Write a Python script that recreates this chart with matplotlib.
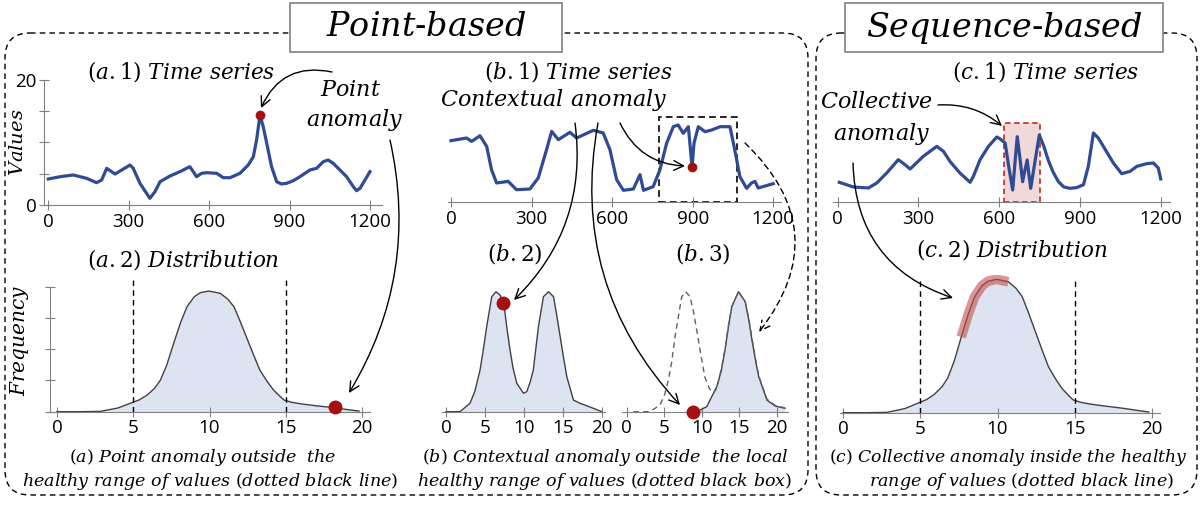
import matplotlib
matplotlib.use("Agg")
import matplotlib.pyplot as plt
import numpy as np
from matplotlib.patches import FancyBboxPatch, Rectangle

plt.rcParams['mathtext.fontset'] = 'dejavuserif'
plt.rcParams['font.family'] = ['Open Sans', 'DejaVu Sans']

# (a.1) time series with a point anomaly
a1_t = [0, 44, 93, 143, 180, 199, 218, 236, 249, 274, 305, 317, 342, 379, 398, 417, 454, 491,
        528, 541, 553, 572, 591, 628, 653, 678, 715, 746, 765, 777, 790, 802, 815, 833, 852,
        870, 889, 914, 939, 976, 1001, 1026, 1044, 1063, 1088, 1113, 1138, 1150, 1163, 1200]
a1_v = [4.16, 4.53, 4.8, 4.27, 3.57, 4.0, 5.87, 5.33, 4.96, 5.6, 6.4, 5.87, 3.47, 1.07, 2.13,
        3.73, 4.64, 5.33, 6.13, 5.33, 4.53, 5.07, 5.17, 5.07, 4.37, 4.37, 5.07, 6.4, 7.73, 10.4,
        14.4, 12.5, 9.87, 6.13, 3.73, 3.36, 3.47, 3.89, 4.53, 5.6, 5.87, 6.93, 7.2, 6.67, 5.6,
        4.53, 2.93, 2.29, 2.67, 5.33]
a1_anom = (790, 14.4)

# (b.1) time series with a contextual anomaly
b1_t = [0, 58, 77, 108, 133, 151, 170, 213, 244, 294, 325, 356, 375, 400, 443, 468, 530, 567,
        592, 617, 642, 679, 704, 717, 753, 778, 803, 828, 846, 865, 884, 892, 898, 905, 921,
        946, 971, 1002, 1039, 1057, 1076, 1101, 1119, 1132, 1144, 1200]
b1_v = [9.81, 10.24, 9.7, 10.6, 8.9, 5.17, 3.04, 3.3, 1.97, 2.08, 3.84, 8.37, 11.3, 9.97, 11.15,
        10.24, 11.47, 11.04, 8.37, 3.57, 1.87, 2.08, 4.37, 1.87, 2.45, 5.12, 9.39, 12.05, 12.32,
        10.99, 12.05, 8.32, 5.65, 9.39, 12.05, 11.25, 11.52, 12.05, 12.05, 8.32, 4.05, 2.19,
        3.04, 3.3, 2.24, 2.93]
b1_anom = (898, 5.65)
b1_box = (776, 1064, 13.55)   # local window: start, end, top

# (c.1) time series with a collective anomaly
c1_t = [6, 58, 114, 145, 182, 225, 250, 269, 318, 368, 393, 417, 454, 492, 504, 529, 560, 591,
        603, 622, 636, 650, 658, 667, 677, 687, 695, 704, 710, 717, 733, 749, 765, 782, 800,
        820, 840, 863, 888, 913, 931, 950, 968, 987, 1024, 1055, 1086, 1111, 1148, 1173, 1191,
        1200]
c1_v = [3.15, 2.4, 2.24, 3.04, 4.64, 6.77, 5.97, 5.28, 7.31, 8.9, 8.1, 6.5, 4.64, 3.15, 4.1,
        6.77, 8.9, 10.4, 10.1, 9.44, 5.5, 1.92, 6.0, 10.45, 7.0, 3.25, 5.0, 6.72, 4.5, 2.19, 6.5,
        10.72, 9.0, 6.72, 4.8, 3.25, 2.4, 2.19, 2.3, 2.77, 5.7, 11.04, 10.24, 8.9, 6.24, 4.53,
        4.9, 5.7, 6.13, 6.24, 5.44, 3.68]
c1_box = (616, 753, 12.6)

# distribution of the whole series (a.2 and c.2)
dist_x = [0, 1.5, 2.84, 4.0, 4.81, 5.4, 5.9, 6.4, 6.78, 7.2, 7.65, 8.1, 8.52, 9.0, 9.4, 9.95,
          10.7, 11.2, 11.6, 12.0, 12.5, 12.9, 13.3, 13.8, 14.2, 14.6, 14.9, 15.4, 16.0, 17.0,
          18.1, 19.0, 19.8]
dist_y = [0, 0, 0.01, 0.12, 0.27, 0.38, 0.53, 0.75, 1.01, 1.5, 2.19, 2.85, 3.36, 3.68, 3.81,
          3.86, 3.79, 3.6, 3.36, 2.9, 2.29, 1.8, 1.33, 0.95, 0.69, 0.5, 0.37, 0.3, 0.25, 0.19,
          0.13, 0.07, 0.02]
a2_anom = (18.25, 0.14)
healthy = [5, 15]

# (b.2) bimodal distribution of the whole series
b2_x = [0, 1.8, 3.08, 3.7, 4.37, 4.8, 5.22, 5.87, 6.42, 6.94, 7.45, 7.8, 8.22, 8.6, 9.08, 9.94,
        10.36, 10.8, 11.2, 11.86, 12.5, 13.15, 13.8, 14.2, 14.65, 15.1, 15.5, 16.36, 17.2, 18.9, 20]
b2_y = [0, 0, 0.27, 0.65, 1.33, 2.0, 2.72, 3.68, 3.84, 3.73, 3.41, 2.7, 1.97, 1.4, 0.91, 0.59,
        0.64, 0.95, 1.33, 2.72, 3.68, 3.84, 3.68, 3.1, 2.4, 1.7, 1.12, 0.37, 0.27, 0.11, 0]
b2_anom = (7.37, 3.47)

# (b.3) local distribution (filled) and reference (dashed)
b3_x = [9.33, 10.67, 12, 12.6, 13.1, 13.55, 14, 14.9, 15.8, 16.3, 16.7, 17.2, 17.6, 18.7, 19.8, 21.1]
b3_y = [0, 0.16, 0.8, 1.3, 1.97, 2.7, 3.36, 3.84, 3.52, 2.9, 2.29, 1.6, 1.12, 0.37, 0.18, 0.11]
b3_ref_x = [0.9, 3.1, 4.4, 5.0, 5.55, 6.0, 6.44, 7.33, 7.87, 8.44, 8.9, 9.33, 9.9, 10.4, 11.0,
            11.56, 12.0, 12.6, 13.1, 13.55, 14.0, 14.9, 15.8, 16.3, 16.7, 17.2, 17.6, 18.7, 19.8, 21.1]
b3_ref_y = [0, 0, 0.21, 0.5, 1.01, 1.6, 2.4, 3.68, 3.84, 3.68, 3.2, 2.61, 1.8, 1.12, 0.75, 0.59,
            0.75, 1.35, 2.0, 2.75, 3.36, 3.84, 3.52, 2.95, 2.35, 1.65, 1.15, 0.4, 0.2, 0.12]
b3_anom = (8.9, 0.0)

c2_hl = (7.3, 11.1)   # range covered by the collective anomaly

ts_ticks = [0, 300, 600, 900, 1200]
dist_ticks = [0, 5, 10, 15, 20]

BLUE = '#2e4b93'
RED = '#a50f10'
FILL = '#dde3f0'
EDGE = '#404040'
GREY = '#808080'

W, H = 1200, 508
fig = plt.figure(figsize=(12, 5.08), dpi=100)


def place(x0, x1, y_bot, y_top, xlim, ylim):
    ax = fig.add_axes([x0 / W, 1 - y_bot / H, (x1 - x0) / W, (y_bot - y_top) / H])
    ax.set_xlim(*xlim)
    ax.set_ylim(*ylim)
    ax.patch.set_alpha(0)
    for s in ['top', 'right', 'left']:
        ax.spines[s].set_visible(False)
    ax.spines['bottom'].set_color(GREY)
    ax.tick_params(colors=GREY, labelcolor='black', direction='inout', length=7,
                   labelsize=13.5, pad=2)
    ax.set_yticks([])
    return ax


def ts_axis(ax):
    ax.set_xticks(ts_ticks)
    ax.set_xticklabels([str(t) for t in ts_ticks])


def dist_axis(ax):
    ax.set_xticks(dist_ticks)
    ax.set_xticklabels([str(t) for t in dist_ticks])


# ---- time series panels ----
ax_a1 = place(44, 382, 205, 80, (-16, 1245), (0, 20))
ax_a1.plot(a1_t, a1_v, color=BLUE, lw=2.3, solid_joinstyle='round')
ax_a1.plot(*a1_anom, 'o', color=RED, ms=6, zorder=5)
ts_axis(ax_a1)
ax_a1.spines['left'].set_visible(True)
ax_a1.spines['left'].set_color(GREY)
ax_a1.set_yticks([0, 5, 10, 15, 20])
ax_a1.set_yticklabels(['0', '', '', '', '20'])

ax_b1 = place(448, 781, 202, 77, (-11, 1229), (0, 20))
ax_b1.plot(b1_t, b1_v, color=BLUE, lw=2.3, solid_joinstyle='round')
ax_b1.plot(*b1_anom, 'o', color=RED, ms=6, zorder=5)
ax_b1.add_patch(Rectangle((b1_box[0], 0), b1_box[1] - b1_box[0], b1_box[2], fill=False,
                          ls=(0, (4, 2.5)), lw=1.2, ec='black', clip_on=False))
ts_axis(ax_b1)

ax_c1 = place(833, 1170, 202, 77, (-17.5, 1234.5), (0, 20))
ax_c1.add_patch(Rectangle((c1_box[0], 0), c1_box[1] - c1_box[0], c1_box[2], fc='#f2d9d9',
                          ec='#c0392b', ls=(0, (3, 2)), lw=1.3, clip_on=False))
ax_c1.plot(c1_t, c1_v, color=BLUE, lw=2.3, solid_joinstyle='round')
ts_axis(ax_c1)

# ---- distribution panels ----
ax_a2 = place(50, 370, 411.7, 286.7, (-0.46, 20.52), (0, 4))
ax_a2.fill_between(dist_x, dist_y, color=FILL, lw=0)
ax_a2.plot(dist_x, dist_y, color=EDGE, lw=1)
for h in healthy:
    ax_a2.plot([h, h], [0, 4.2], color='black', ls=(0, (4, 3)), lw=1, clip_on=False)
ax_a2.plot(*a2_anom, 'o', color=RED, ms=9, zorder=5, clip_on=False)
dist_axis(ax_a2)
ax_a2.spines['left'].set_visible(True)
ax_a2.spines['left'].set_color(GREY)
ax_a2.set_yticks([0, 1, 2, 3, 4])
ax_a2.set_yticklabels([])

ax_b2 = place(441.7, 605, 411.7, 286.7, (-0.55, 20.4), (0, 4))
ax_b2.fill_between(b2_x, b2_y, color=FILL, lw=0)
ax_b2.plot(b2_x, b2_y, color=EDGE, lw=1)
ax_b2.plot(*b2_anom, 'o', color=RED, ms=9, zorder=5)
dist_axis(ax_b2)

ax_b3 = place(621.7, 788, 411.7, 286.7, (-0.67, 21.5), (0, 4))
ax_b3.fill_between(b3_x, b3_y, color=FILL, lw=0)
ax_b3.plot(b3_x, b3_y, color=EDGE, lw=1)
ax_b3.plot(b3_ref_x, b3_ref_y, color='#606060', lw=1, ls=(0, (4, 3)))
ax_b3.plot(*b3_anom, 'o', color=RED, ms=9, zorder=5, clip_on=False)
dist_axis(ax_b3)

ax_c2 = place(840, 1160, 412.7, 274.5, (-0.21, 20.53), (0, 4))
ax_c2.fill_between(dist_x, dist_y, color=FILL, lw=0)
ax_c2.plot(dist_x, dist_y, color=EDGE, lw=1)
hx = np.array(dist_x)
hy = np.array(dist_y)
m = (hx >= c2_hl[0]) & (hx <= c2_hl[1])
ax_c2.plot(hx[m], hy[m], color='#c0504d', alpha=0.6, lw=7, solid_capstyle='butt', zorder=4)
for h in healthy:
    ax_c2.plot([h, h], [0, 3.82], color='black', ls=(0, (4, 3)), lw=1, clip_on=False)
dist_axis(ax_c2)

# ---- overlay: frames, titles, arrows ----
ov = fig.add_axes([0, 0, 1, 1], zorder=10)
ov.set_xlim(0, W)
ov.set_ylim(H, 0)
ov.axis('off')
ov.patch.set_alpha(0)

for x0, x1 in [(5, 808), (816, 1197)]:
    ov.add_patch(FancyBboxPatch((x0, 33), x1 - x0, 462, boxstyle='round,pad=0,rounding_size=25',
                                fill=False, ls=(0, (4, 3)), lw=1, ec='black'))
for (x0, x1), label in [((290, 562), r'$Point\text{-}based$'),
                        ((845, 1163), r'$Sequence\text{-}based$')]:
    ov.add_patch(Rectangle((x0, 3), x1 - x0, 49, fc='white', ec=GREY, lw=1.2, zorder=3))
    ov.text((x0 + x1) / 2, 28, label, fontsize=24, ha='center', va='center', zorder=4)

ttl = dict(fontsize=15.5, ha='center', va='center')
ov.text(181, 72, r'$(a.1)\ Time\ series$', **ttl)
ov.text(578, 72, r'$(b.1)\ Time\ series$', **ttl)
ov.text(1046, 72, r'$(c.1)\ Time\ series$', **ttl)
ov.text(183, 260, r'$(a.2)\ Distribution$', **ttl)
ov.text(515, 253, r'$(b.2)$', **ttl)
ov.text(703, 253, r'$(b.3)$', **ttl)
ov.text(1012, 250, r'$(c.2)\ Distribution$', **ttl)

lab = dict(fontsize=16, ha='center', va='center')
ov.text(351, 90, r'$Point$', **lab)
ov.text(355, 120, r'$anomaly$', **lab)
ov.text(554, 100, r'$Contextual\ anomaly$', **lab)
ov.text(877, 102, r'$Collective$', **lab)
ov.text(882, 134, r'$anomaly$', **lab)

ov.text(18, 142, r'$Values$', fontsize=14, rotation=90, ha='center', va='center')
ov.text(20, 340, r'$Frequency$', fontsize=14.5, rotation=90, ha='center', va='center')

cap = dict(fontsize=12.6, ha='center', va='center')
ov.text(203, 457, r'$(a)\ Point\ anomaly\ outside\ \ the$', **cap)
ov.text(210, 481, r'$healthy\ range\ of\ values\ (dotted\ black\ line)$', **cap)
ov.text(605, 457, r'$(b)\ Contextual\ anomaly\ outside\ \ the\ local$', **cap)
ov.text(605, 481, r'$healthy\ range\ of\ values\ (dotted\ black\ box)$', **cap)
ov.text(1008, 457, r'$(c)\ Collective\ anomaly\ inside\ the\ healthy$', fontsize=12.4,
        ha='center', va='center')
ov.text(1021, 481, r'$range\ of\ values\ (dotted\ black\ line)$', **cap)


def arrow(start, end, rad, ls='-'):
    ov.annotate('', xy=end, xytext=start,
                arrowprops=dict(arrowstyle='->,head_length=0.7,head_width=0.35',
                                connectionstyle=f'arc3,rad={rad}', color='black', lw=1,
                                ls=ls, shrinkA=0, shrinkB=0))


arrow((332, 72), (261, 108), 0.4)
arrow((390, 140), (349, 393), -0.2)
arrow((620, 123), (685, 166), 0.3)
arrow((575, 123), (514, 300), -0.25)
arrow((598, 123), (680, 405), 0.25)
arrow((745, 143), (759, 332), -0.45, ls=(0, (4, 3)))
arrow((938, 105), (1002, 126), -0.2)
arrow((853, 163), (953, 298), 0.35)

fig.savefig('out.png', dpi=100)
